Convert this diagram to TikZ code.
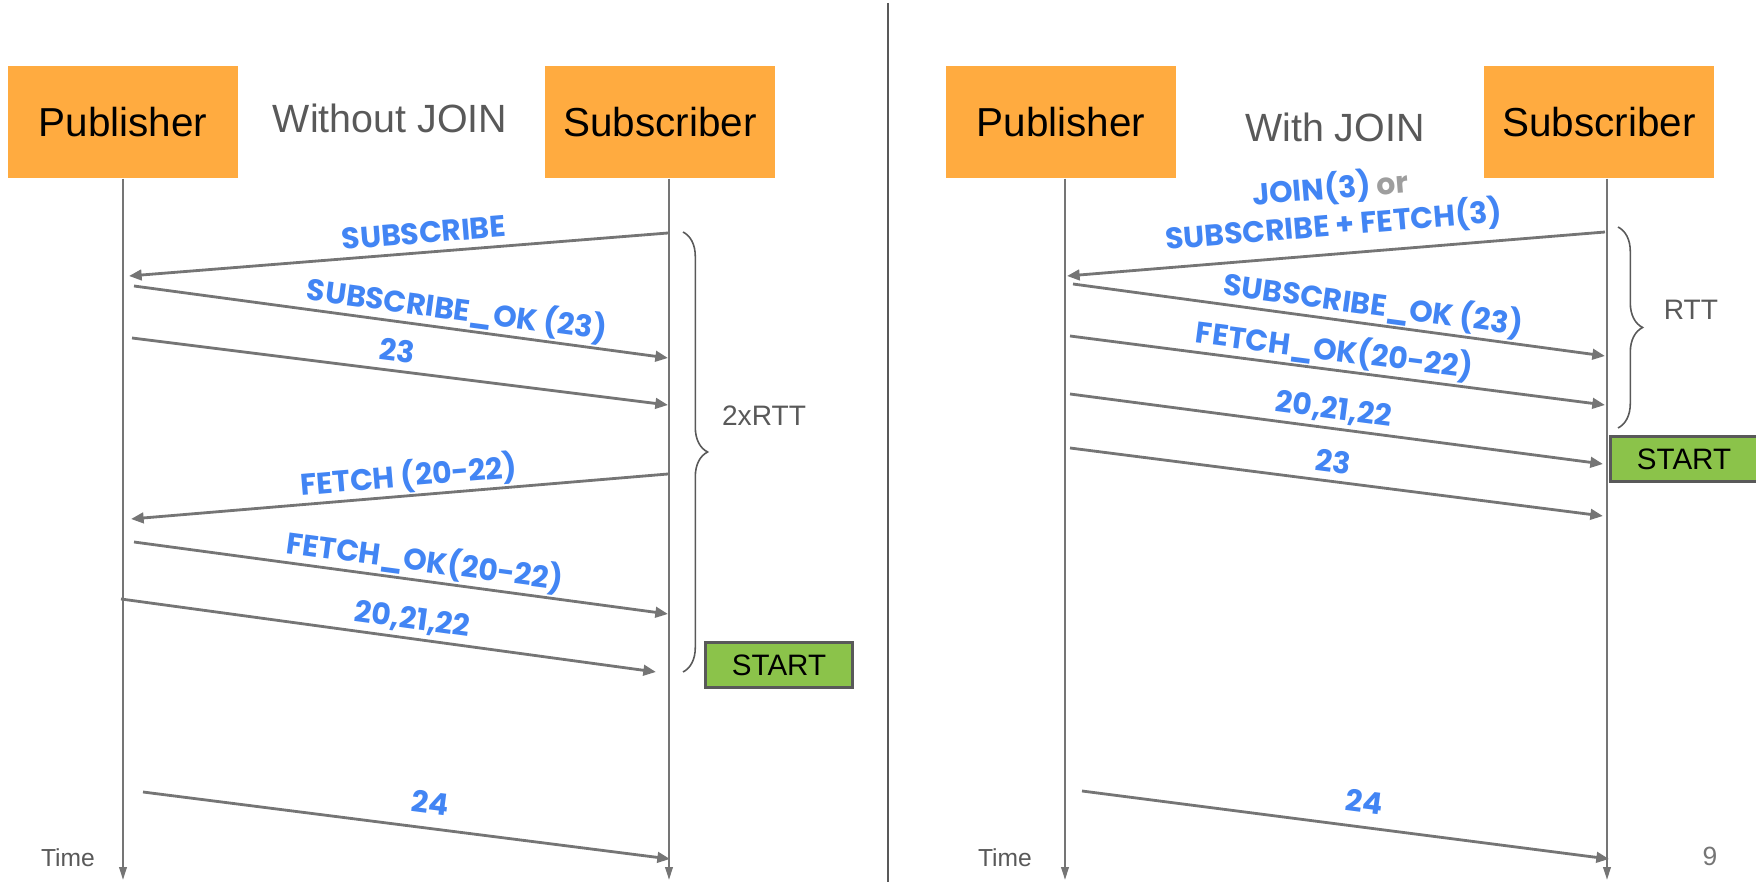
\documentclass[tikz,border=0pt]{standalone}
\usepackage{fontspec}
\setmainfont{Liberation Sans}
\newfontfamily\popfont{Poppins}
\usetikzlibrary{arrows.meta,decorations.pathreplacing}

\definecolor{boxorange}{HTML}{FFAB40}
\definecolor{msgblue}{HTML}{4285F4}
\definecolor{linegray}{HTML}{757575}
\definecolor{textgray}{HTML}{595959}
\definecolor{orgray}{HTML}{9E9E9E}
\definecolor{startgreen}{HTML}{8BC34A}

\begin{document}
\begin{tikzpicture}[x=0.01cm, y=-0.01cm,
  actor/.style={fill=boxorange, minimum width=2.29cm, minimum height=1.12cm, inner sep=0pt, font=\fontsize{11.5}{13}\selectfont},
  hdr/.style={text=textgray, font=\fontsize{11.2}{13}\selectfont},
  life/.style={draw=linegray, line width=0.45pt, -{Triangle[length=3.6pt,width=2.2pt]}},
  msg/.style={draw=linegray, line width=0.8pt, -{Triangle[length=3.6pt,width=3pt]}},
  lblbase/.style={sloped, above=-0.8pt, inner sep=1.5pt, text=msgblue, font=\popfont\bfseries\fontsize{8.5}{9.3}\selectfont},
  lbl/.style={lblbase, text height=6.5pt, text depth=1.5pt},
  brc/.style={draw=textgray, line width=0.45pt, decorate, decoration={brace, amplitude=7pt}},
  note/.style={text=textgray, font=\fontsize{8}{9.5}\selectfont},
  startbox/.style={fill=startgreen, draw=textgray, line width=0.6pt, minimum width=1.47cm, minimum height=0.45cm, inner sep=0pt, font=\fontsize{8.4}{10}\selectfont}]

\useasboundingbox (0,0) rectangle (1756,882);

% divider
\draw[textgray, line width=0.5pt] (888,3) -- (888,882);

% ---- left: without JOIN
\node[actor] (pubL) at (123,122) {Publisher};
\node[actor] (subL) at (660,122) {Subscriber};
\node[hdr] (hdrL) at (390,118) {Without JOIN};

\draw[life] (pubL.south) -- ++(0,701);
\draw[life] ([xshift=0.09cm]subL.south) -- ++(0,701);

\coordinate (a1) at (668,233); \coordinate (b1) at (129,276);
\draw[msg] (a1) -- node[lbl, pos=.45] {SUBSCRIBE} (b1);
\coordinate (a2) at (134,286); \coordinate (b2) at (668,358);
\draw[msg] (a2) -- node[lbl, pos=.60] {SUBSCRIBE\_OK (23)} (b2);
\coordinate (a3) at (132,338); \coordinate (b3) at (668,405);
\draw[msg] (a3) -- node[lbl, pos=.49] {23} (b3);
\coordinate (a4) at (668,474); \coordinate (b4) at (131,519);
\draw[msg] (a4) -- node[lbl, pos=.48] {FETCH (20-22)} (b4);
\coordinate (a5) at (134,542); \coordinate (b5) at (668,614);
\draw[msg] (a5) -- node[lbl, pos=.54] {FETCH\_OK(20-22)} (b5);
\coordinate (a6) at (121,599); \coordinate (b6) at (656,672);
\draw[msg] (a6) -- node[lbl, pos=.54] {20,21,22} (b6);
\coordinate (a7) at (143,792); \coordinate (b7) at (670,859);
\draw[msg] (a7) -- node[lbl, pos=.54, above=1.6pt] {24} (b7);

\draw[brc] (683,232) -- (683,672);
\node[note] (rttL) at (764,416) {2xRTT};
\node[startbox] (startL) at (779,665) {START};
\node[note, font=\fontsize{7}{8}\selectfont] (timeL) at (68,858) {Time};

% ---- right: with JOIN
\node[actor] (pubR) at (1061,122) {Publisher};
\node[actor] (subR) at (1599,122) {Subscriber};
\node[hdr] (hdrR) at (1335,127) {With JOIN};

\draw[life] ([xshift=0.04cm]pubR.south) -- ++(0,701);
\draw[life] ([xshift=0.08cm]subR.south) -- ++(0,701);

\coordinate (c1) at (1605,232); \coordinate (d1) at (1067,276);
\draw[msg] (c1) -- node[lblbase, pos=.50, align=center, above=2.3pt] {JOIN(3) {\color{orgray}or}\\SUBSCRIBE + FETCH(3)} (d1);
\coordinate (c2) at (1073,284); \coordinate (d2) at (1605,356);
\draw[msg] (c2) -- node[lbl, pos=.56] {SUBSCRIBE\_OK (23)} (d2);
\coordinate (c3) at (1070,336); \coordinate (d3) at (1605,405);
\draw[msg] (c3) -- node[lbl, pos=.49] {FETCH\_OK(20-22)} (d3);
\coordinate (c4) at (1070,394); \coordinate (d4) at (1603,464);
\draw[msg] (c4) -- node[lbl, pos=.49] {20,21,22} (d4);
\coordinate (c5) at (1070,448); \coordinate (d5) at (1603,516);
\draw[msg] (c5) -- node[lbl, pos=.49] {23} (d5);
\coordinate (c6) at (1082,791); \coordinate (d6) at (1609,859);
\draw[msg] (c6) -- node[lbl, pos=.53, above=1.6pt] {24} (d6);

\draw[brc] (1618,227) -- (1618,428);
\node[note] (rttR) at (1691,310) {RTT};
\node[startbox] (startR) at (1684,459) {START};
\node[note, font=\fontsize{7}{8}\selectfont] (timeR) at (1005,858) {Time};
\node[note, text=linegray, font=\fontsize{7.5}{9}\selectfont] (pageno) at (1710,856) {9};
\end{tikzpicture}
\end{document}
